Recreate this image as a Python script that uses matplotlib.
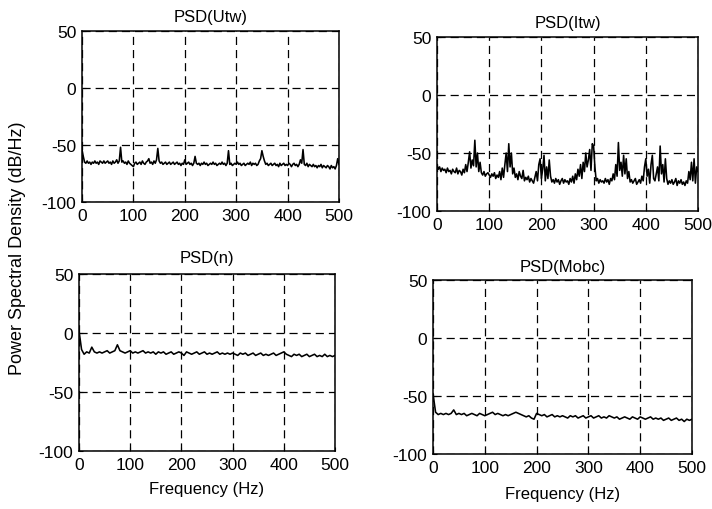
import numpy as np
import matplotlib
matplotlib.use("Agg")
import matplotlib.pyplot as plt

plt.rcParams['font.family'] = ['Liberation Sans', 'DejaVu Sans']
plt.rcParams['axes.unicode_minus'] = False

freq_fine = np.arange(0, 502.5, 2.5)   # 201 points
freq_coarse = np.arange(0, 505, 5)     # 101 points

psd_utw = [-54, -60, -65, -66, -64, -66, -65, -67, -65, -66,
           -64, -66, -65, -67, -64, -65, -66, -64, -66, -65,
           -64, -66, -65, -67, -64, -66, -65, -63, -66, -64,
           -52, -65, -64, -66, -65, -67, -64, -66, -67, -68,
           -69, -66, -65, -67, -66, -65, -67, -64, -66, -67,
           -65, -64, -62, -66, -65, -67, -64, -66, -63, -53,
           -64, -66, -65, -67, -66, -65, -67, -66, -65, -67,
           -66, -65, -67, -66, -65, -67, -66, -68, -66, -67,
           -63, -67, -66, -65, -67, -66, -68, -66, -60, -66,
           -67, -66, -68, -66, -67, -65, -67, -66, -68, -67,
           -66, -67, -65, -67, -66, -68, -67, -66, -67, -65,
           -67, -66, -68, -66, -55, -67, -66, -68, -67, -66,
           -67, -65, -67, -66, -68, -67, -66, -68, -67, -66,
           -67, -65, -68, -66, -67, -66, -68, -67, -64, -62,
           -55, -60, -64, -67, -66, -68, -67, -66, -68, -67,
           -66, -68, -67, -69, -66, -68, -67, -66, -68, -67,
           -68, -66, -67, -69, -67, -66, -68, -67, -69, -67,
           -63, -66, -54, -67, -68, -66, -69, -67, -68, -69,
           -67, -69, -68, -70, -68, -69, -67, -70, -68, -69,
           -70, -68, -69, -71, -68, -70, -69, -71, -68, -62,
           -67]

psd_itw = [-60, -64, -62, -66, -63, -65, -64, -67, -63, -66,
           -65, -68, -64, -66, -67, -63, -68, -65, -66, -69,
           -64, -67, -60, -66, -58, -49, -63, -56, -61, -39,
           -62, -50, -66, -58, -67, -69, -66, -70, -68, -67,
           -69, -71, -68, -70, -67, -72, -69, -71, -66, -73,
           -63, -71, -60, -50, -66, -42, -62, -50, -68, -63,
           -71, -68, -73, -66, -70, -72, -65, -74, -71, -73,
           -70, -75, -72, -74, -76, -71, -66, -74, -60, -55,
           -72, -64, -52, -74, -62, -72, -56, -70, -75, -73,
           -76, -72, -75, -73, -77, -74, -72, -76, -73, -75,
           -74, -77, -72, -75, -70, -76, -68, -73, -64, -70,
           -60, -72, -58, -66, -50, -62, -56, -47, -65, -42,
           -44, -62, -74, -72, -76, -73, -75, -74, -76, -72,
           -75, -73, -77, -72, -74, -68, -73, -60, -70, -41,
           -65, -58, -70, -52, -68, -55, -72, -66, -75, -73,
           -76, -74, -72, -77, -75, -73, -76, -70, -74, -62,
           -55, -70, -64, -76, -60, -52, -72, -74, -68, -62,
           -74, -44, -68, -60, -75, -55, -72, -77, -74, -76,
           -73, -77, -75, -72, -78, -74, -76, -73, -77, -75,
           -78, -74, -76, -66, -73, -58, -74, -55, -76, -62,
           -66]

psd_n = [2, -14, -18, -16, -17, -12, -16, -17, -16, -17,
         -16, -15, -17, -16, -15, -10, -15, -16, -17, -16,
         -15, -17, -16, -17, -16, -15, -17, -16, -17, -16,
         -18, -16, -17, -16, -18, -17, -16, -18, -17, -16,
         -17, -19, -16, -17, -18, -17, -16, -18, -17, -16,
         -18, -17, -18, -17, -16, -18, -17, -18, -17, -18,
         -17, -18, -19, -17, -18, -17, -19, -18, -17, -19,
         -18, -17, -19, -18, -19, -18, -17, -19, -18, -17,
         -16, -18, -19, -20, -18, -19, -18, -20, -19, -18,
         -20, -19, -18, -20, -19, -20, -18, -20, -19, -20,
         -19]

psd_mobc = [-48, -64, -66, -65, -66, -65, -66, -65, -62, -66,
            -65, -66, -65, -67, -66, -65, -66, -67, -65, -66,
            -67, -66, -65, -64, -66, -65, -66, -67, -66, -67,
            -66, -65, -64, -65, -66, -67, -68, -67, -69, -70,
            -65, -66, -67, -66, -68, -67, -66, -68, -67, -68,
            -67, -68, -69, -67, -68, -67, -69, -68, -67, -69,
            -68, -67, -69, -68, -67, -69, -68, -69, -67, -68,
            -69, -68, -70, -69, -68, -69, -70, -68, -69, -70,
            -68, -69, -70, -69, -68, -70, -69, -70, -69, -71,
            -70, -69, -71, -70, -69, -71, -70, -72, -70, -71,
            -70]

titles = ["PSD(Utw)", "PSD(Itw)", "PSD(n)", "PSD(Mobc)"]
series = [(freq_fine, psd_utw), (freq_fine, psd_itw),
          (freq_coarse, psd_n), (freq_coarse, psd_mobc)]
xticks = [0, 100, 200, 300, 400, 500]
yticks = [-100, -50, 0, 50]

W, H = 712, 510
fig = plt.figure(figsize=(W / 100, H / 100), dpi=100)

# axes rectangles in pixels: left, top, right, bottom
rects = [(82, 32, 339, 203), (437, 38, 698, 212),
         (79, 275, 335, 452), (433, 281, 692, 455)]
title_pads = [7, 7, 8.5, 6.5]

axes = []
for (l, t, r, b), title, (fx, vals), tp in zip(rects, titles, series, title_pads):
    ax = fig.add_axes([l / W, 1 - b / H, (r - l) / W, (b - t) / H])
    ax.plot(fx, vals, color='black', lw=1.15)
    ax.set_xlim(0, 500)
    ax.set_ylim(-100, 50)
    ax.set_xticks(xticks)
    ax.set_yticks(yticks)
    ax.grid(True, color='black', linestyle=(0, (6.5, 4)), lw=0.9)
    ax.tick_params(direction='in', length=3, labelsize=12.5, pad=4, colors='black')
    for s in ax.spines.values():
        s.set_color('black')
        s.set_linewidth(1.1)
    ax.set_title(title, fontsize=12, pad=tp)
    axes.append(ax)

axes[2].set_xlabel("Frequency (Hz)", fontsize=12, labelpad=7)
axes[3].set_xlabel("Frequency (Hz)", fontsize=12, labelpad=8)

fig.text(18 / W, 1 - 248 / H, "Power Spectral Density (dB/Hz)", rotation=90,
         ha='center', va='center', fontsize=13)

fig.savefig("out.png", dpi=100, facecolor='white')
